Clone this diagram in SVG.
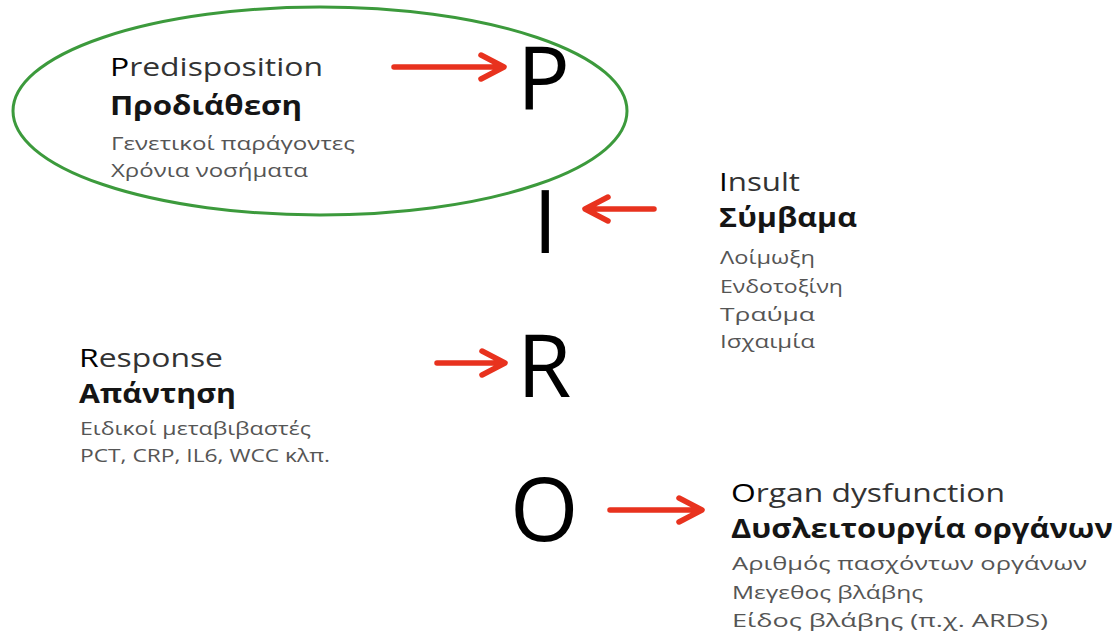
<svg xmlns="http://www.w3.org/2000/svg" width="1115" height="640" viewBox="0 0 1115 640">
<style>
text{font-family:"Open Sans","Noto Sans","DejaVu Sans",sans-serif}
.h{font-size:26px;fill:#333}
.f{fill:#000}
.b{font-size:26px;font-weight:bold;fill:#151515}
.s{font-size:18.5px;fill:#555}
.big{font-size:88px;fill:#000}
.arr{stroke:#e8321e;stroke-width:5.5;fill:none;stroke-linecap:round;stroke-linejoin:round}
</style>
<rect width="1115" height="640" fill="#fff"/>
<g id="predisposition">
<ellipse cx="320" cy="111" rx="307" ry="104" fill="none" stroke="#3c9a3c" stroke-width="3"/>
<text class="h" x="110" y="76" textLength="213" lengthAdjust="spacingAndGlyphs"><tspan class="f">P</tspan>redisposition</text>
<text class="b" x="110" y="115" textLength="192" lengthAdjust="spacingAndGlyphs">Προδιάθεση</text>
<text class="s" x="111" y="150" textLength="244" lengthAdjust="spacingAndGlyphs">Γενετικοί παράγοντες</text>
<text class="s" x="111" y="177" textLength="197" lengthAdjust="spacingAndGlyphs">Χρόνια νοσήματα</text>
</g>
<g id="letterP"><text class="big" x="517" y="110">P</text></g>
<g id="letterI"><text class="big" x="533" y="253">I</text></g>
<g id="letterR"><text class="big" x="517" y="397">R</text></g>
<g id="letterO"><text class="big" x="510" y="541">O</text></g>
<g id="insult">
<text class="h" x="719" y="191" textLength="81" lengthAdjust="spacingAndGlyphs"><tspan class="f">I</tspan>nsult</text>
<text class="b" x="719" y="227" textLength="138" lengthAdjust="spacingAndGlyphs">Σύμβαμα</text>
<text class="s" x="720" y="264" textLength="95" lengthAdjust="spacingAndGlyphs">Λοίμωξη</text>
<text class="s" x="720" y="293" textLength="123" lengthAdjust="spacingAndGlyphs">Ενδοτοξίνη</text>
<text class="s" x="720" y="321" textLength="95" lengthAdjust="spacingAndGlyphs">Τραύμα</text>
<text class="s" x="720" y="348" textLength="95" lengthAdjust="spacingAndGlyphs">Ισχαιμία</text>
</g>
<g id="response">
<text class="h" x="79" y="367" textLength="144" lengthAdjust="spacingAndGlyphs"><tspan class="f">R</tspan>esponse</text>
<text class="b" x="79" y="403" textLength="157" lengthAdjust="spacingAndGlyphs">Απάντηση</text>
<text class="s" x="80" y="435" textLength="231" lengthAdjust="spacingAndGlyphs">Ειδικοί μεταβιβαστές</text>
<text class="s" x="80" y="462" textLength="250" lengthAdjust="spacingAndGlyphs">PCT, CRP, IL6, WCC κλπ.</text>
</g>
<g id="organ">
<text class="h" x="731" y="502" textLength="274" lengthAdjust="spacingAndGlyphs"><tspan class="f">O</tspan>rgan dysfunction</text>
<text class="b" x="731" y="538" textLength="382" lengthAdjust="spacingAndGlyphs">Δυσλειτουργία οργάνων</text>
<text class="s" x="732" y="570" textLength="355" lengthAdjust="spacingAndGlyphs">Αριθμός πασχόντων οργάνων</text>
<text class="s" x="732" y="599" textLength="191" lengthAdjust="spacingAndGlyphs">Μεγεθος βλάβης</text>
<text class="s" x="732" y="627" textLength="316" lengthAdjust="spacingAndGlyphs">Είδος βλάβης (π.χ. ARDS)</text>
</g>
<g id="connectors">
<path class="arr" d="M394 67H503M481 55L504 67L481 79"/>
<path class="arr" d="M654 209H586M608 197L585 209L608 221"/>
<path class="arr" d="M437 363H504M482 351L505 363L482 375"/>
<path class="arr" d="M610 510H701M679 498L702 510L679 522"/>
</g>
</svg>
